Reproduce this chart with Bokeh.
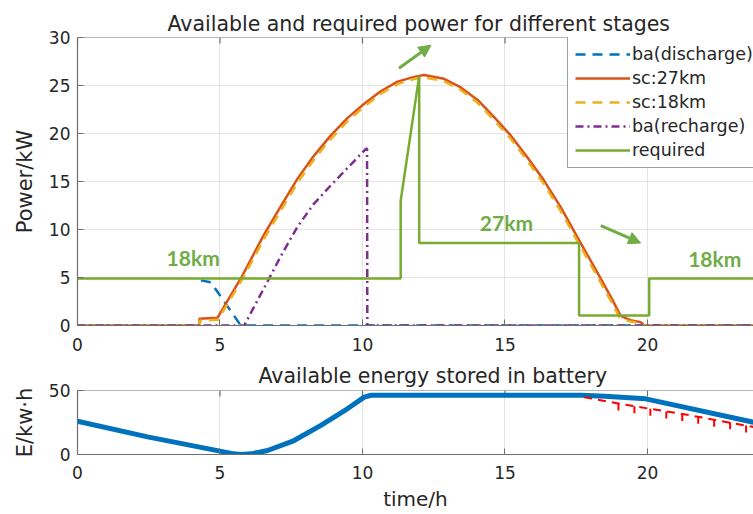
from bokeh.plotting import figure
from bokeh.models import (Range1d, FixedTicker, Legend, LegendItem,
                          Arrow, NormalHead, ColumnDataSource, Span)
from bokeh.layouts import column
from bokeh.core.properties import value
from bokeh.embed import file_html
from bokeh.resources import INLINE

FONT = "DejaVu Sans"

# ---------------- data: top panel (power, kW) ----------------
dis_t = [4.33, 4.68, 5.73, 23.72]
dis_v = [4.7, 4.5, 0.0, 0.0]

sc27_t = [0, 4.27, 4.28, 4.91, 5.73, 6.55, 7.13, 7.72, 8.30, 8.89, 9.47, 10.06, 10.64,
          11.23, 11.81, 12.16, 12.86, 13.45, 14.04, 14.62, 15.2, 15.79, 16.37, 16.96,
          17.54, 18.13, 18.71, 19.06, 19.4, 19.76, 19.9, 23.72]
sc27_v = [0, 0, 0.7, 0.8, 4.9, 9.5, 12.4, 15.3, 17.7, 19.8, 21.6, 23.1, 24.4,
          25.4, 25.9, 26.1, 25.7, 24.8, 23.5, 21.7, 19.8, 17.5, 15.1, 12.3,
          9.2, 6.1, 3.0, 1.0, 0.55, 0.35, 0, 0]

sc18_t = [0, 4.27, 4.28, 4.93, 5.78, 6.60, 7.18, 7.77, 8.35, 8.94, 9.52, 10.10, 10.68,
          11.27, 11.85, 12.16, 12.82, 13.41, 14.00, 14.58, 15.16, 15.75, 16.33, 16.92,
          17.50, 18.09, 18.67, 19.02, 19.36, 19.72, 19.88, 23.72]
sc18_v = [0, 0, 0.5, 0.6, 4.8, 9.3, 12.2, 15.1, 17.5, 19.6, 21.4, 22.9, 24.2,
          25.2, 25.7, 25.85, 25.5, 24.6, 23.3, 21.5, 19.6, 17.3, 14.9, 12.1,
          9.0, 5.9, 2.8, 0.85, 0.45, 0.25, 0, 0]

rec_t = [0, 5.85, 6.67, 7.13, 7.72, 8.30, 8.89, 9.47, 10.12, 10.16, 10.17, 23.72]
rec_v = [0, 0, 4.6, 7.2, 10.3, 12.7, 14.6, 16.4, 18.4, 18.4, 0, 0]

req_t = [0, 11.34, 11.34, 11.99, 11.99, 17.6, 17.6, 20.06, 20.06, 23.72]
req_v = [4.9, 4.9, 13.0, 26.0, 8.6, 8.6, 1.05, 1.05, 4.9, 4.9]

km_labels = ["18km", "27km", "18km"]
km_t = [4.06, 15.05, 22.36]
km_v = [7.1, 10.7, 7.0]

arrow_x0 = [11.28, 18.36]
arrow_y0 = [26.8, 10.4]
arrow_x1 = [12.40, 19.76]
arrow_y1 = [29.2, 8.6]

x_ticks = [0, 5, 10, 15, 20]
p_ticks = [0, 5, 10, 15, 20, 25, 30]

# ---------------- data: bottom panel (energy) ----------------
e_t = [0, 2.46, 5.0, 5.4, 5.73, 6.1, 6.67, 7.6, 8.54, 9.47, 10.06, 10.3,
       17.66, 18.5, 19.94, 23.72]
e_v = [26.0, 13.8, 2.6, 0.8, 0.0, 0.5, 3.1, 10.9, 22.7, 35.7, 44.8, 46.3,
       46.3, 45.5, 43.5, 25.2]

lim_t = [17.78, 19.06, 20.0, 21.4, 22.5, 23.72]
lim_v = [44.8, 39.5, 36.0, 31.0, 26.5, 21.5]

hook_t = [18.98, 19.54, 20.10, 20.66, 21.22, 21.78, 22.34, 22.90, 23.46]
hook_v = [39.8, 37.7, 35.8, 33.6, 31.6, 29.5, 27.2, 25.2, 22.6]
hook_len = 5.5

e_ticks = [0, 50]

# ---------------- styling ----------------
BLUE = "#0072BD"
ORANGE = "#D95319"
YELLOW = "#EDB120"
PURPLE = "#7E2F8E"
GREEN = "#77AC30"
TXTGREEN = "#70AD47"
AXC = "#6e6e6e"
TXT = "#262626"
GRID = "#e4e4e4"
TICK_PX = 6


def style_axes(p, yticks, ylim, ylabel, title_offset, xlabel=None):
    p.outline_line_color = None
    p.background_fill_color = "white"
    p.border_fill_color = "white"
    for ax in p.xaxis + p.yaxis:
        ax.major_tick_in = TICK_PX
        ax.major_tick_out = 0
        ax.minor_tick_line_color = None
        ax.axis_line_color = AXC
        ax.axis_line_width = 1.2
        ax.major_tick_line_color = AXC
        ax.major_label_text_font = FONT
        ax.major_label_text_font_size = "17px"
        ax.major_label_text_color = TXT
        ax.axis_label_text_font = FONT
        ax.axis_label_text_font_style = "normal"
        ax.axis_label_text_color = TXT
    p.xaxis.ticker = FixedTicker(ticks=x_ticks)
    p.yaxis.ticker = FixedTicker(ticks=yticks)
    p.yaxis.major_label_standoff = 7
    p.yaxis.axis_label = ylabel
    p.yaxis.axis_label_text_font_size = "21px"
    p.yaxis.axis_label_standoff = 9
    p.xaxis.major_label_standoff = 12
    if xlabel:
        p.xaxis.axis_label = xlabel
        p.xaxis.axis_label_text_font_size = "20px"
        p.xaxis.axis_label_standoff = 5
    # top border of the box with inward ticks (the right side is cropped away)
    p.add_layout(Span(location=ylim, dimension="width", line_color=AXC, line_width=1.2))
    frame_h = p.height - p.min_border_top - p.min_border_bottom
    tick_len = ylim / frame_h * TICK_PX
    p.segment(x0=x_ticks, y0=[ylim] * len(x_ticks), x1=x_ticks,
              y1=[ylim - tick_len] * len(x_ticks), line_color=AXC, line_width=1.2)
    p.xgrid.ticker = FixedTicker(ticks=x_ticks)
    p.ygrid.ticker = FixedTicker(ticks=yticks)
    p.xgrid.grid_line_color = GRID
    p.ygrid.grid_line_color = GRID
    p.title.align = "left"
    p.title.offset = title_offset
    p.title.text_font = FONT
    p.title.text_font_size = "20.5px"
    p.title.text_font_style = "normal"
    p.title.text_color = TXT


# ---------------- top figure ----------------
p1 = figure(width=753, height=358, output_backend="svg", toolbar_location=None,
            x_range=Range1d(0, 23.72), y_range=Range1d(0, 30),
            min_border_left=77, min_border_right=0, min_border_top=37, min_border_bottom=33,
            title="Available and required power for different stages")
style_axes(p1, p_ticks, 30, "Power/kW", 90)
p1.title.standoff = 4

r_dis = p1.line(dis_t, dis_v, line_color=BLUE, line_width=2.5, line_dash="10 7")
r_27 = p1.line(sc27_t, sc27_v, line_color=ORANGE, line_width=2.5)
r_18 = p1.line(sc18_t, sc18_v, line_color=YELLOW, line_width=2.5, line_dash="10 7")
r_rec = p1.line(rec_t, rec_v, line_color=PURPLE, line_width=2.5, line_dash="8 4 2 4")
r_req = p1.line(req_t, req_v, line_color=GREEN, line_width=2.5)

km_src = ColumnDataSource(dict(x=km_t, y=km_v, t=km_labels))
p1.text(x="x", y="y", text="t", source=km_src, text_font=value("Lato"),
        text_font_style="bold", text_font_size="21px", text_color=TXTGREEN,
        text_align="center", text_baseline="middle")

for xs, ys, xe, ye in zip(arrow_x0, arrow_y0, arrow_x1, arrow_y1):
    p1.add_layout(Arrow(end=NormalHead(size=12, fill_color=TXTGREEN, line_color=TXTGREEN),
                        x_start=xs, y_start=ys, x_end=xe, y_end=ye,
                        line_color=TXTGREEN, line_width=3))

legend = Legend(items=[
    LegendItem(label="ba(discharge)", renderers=[r_dis]),
    LegendItem(label="sc:27km", renderers=[r_27]),
    LegendItem(label="sc:18km", renderers=[r_18]),
    LegendItem(label="ba(recharge)", renderers=[r_rec]),
    LegendItem(label="required", renderers=[r_req]),
], location=(490, 157))
legend.label_text_font = FONT
legend.label_text_font_size = "17.5px"
legend.label_text_color = TXT
legend.glyph_width = 55
legend.glyph_height = 20
legend.label_height = 20
legend.label_standoff = 2
legend.spacing = 4
legend.padding = 7
legend.margin = 0
legend.border_line_color = "#404040"
legend.border_line_width = 1
legend.background_fill_color = "white"
legend.background_fill_alpha = 1.0
p1.add_layout(legend)

# ---------------- bottom figure ----------------
p2 = figure(width=753, height=156, output_backend="svg", toolbar_location=None,
            x_range=Range1d(0, 23.72), y_range=Range1d(0, 50),
            min_border_left=77, min_border_right=0, min_border_top=32, min_border_bottom=60,
            title="Available energy stored in battery")
style_axes(p2, e_ticks, 50, "E/kw·h", 181, "time/h")
p2.title.standoff = 6
p2.xaxis.major_label_standoff = 11

p2.line(e_t, e_v, line_color=BLUE, line_width=5)
p2.line(lim_t, lim_v, line_color="#FF0000", line_width=2, line_dash="8 6")
p2.segment(x0=hook_t, y0=hook_v, x1=hook_t, y1=[v - hook_len for v in hook_v],
           line_color="#FF0000", line_width=2)

layout = column(p1, p2, spacing=0)
open("out.html", "w").write(file_html(layout, INLINE))
